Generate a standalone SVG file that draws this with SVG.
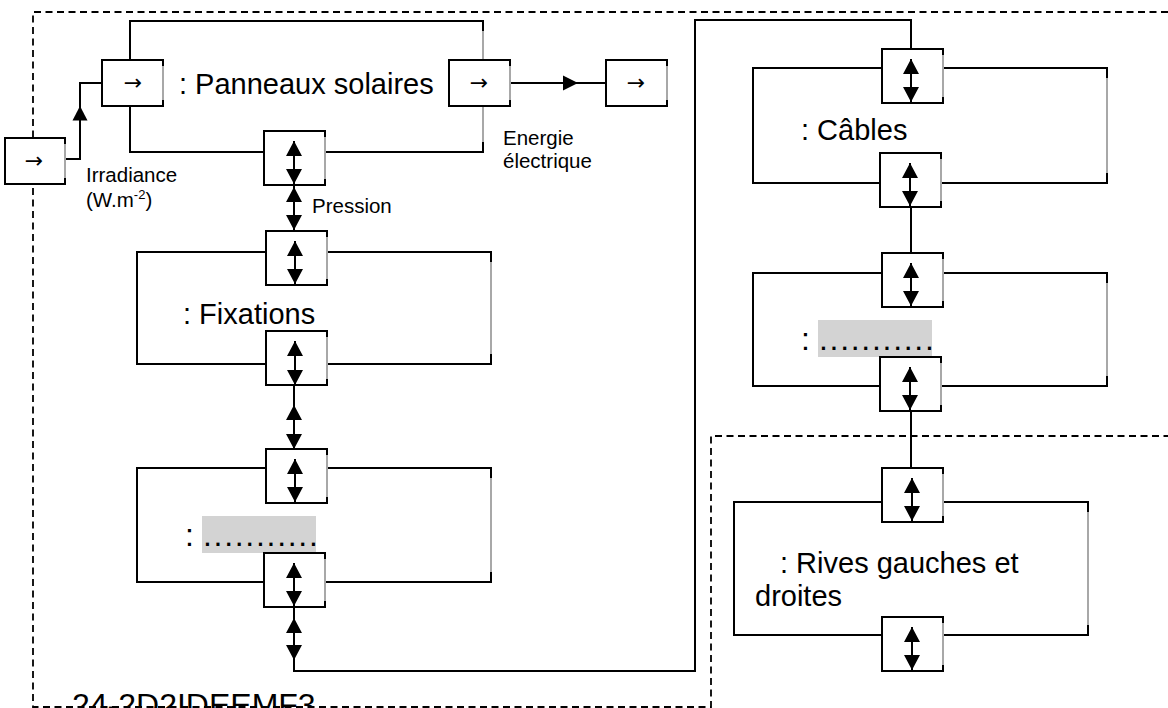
<svg xmlns="http://www.w3.org/2000/svg" width="1168" height="708" viewBox="0 0 1168 708">
<style>
.ln{stroke:#000;stroke-width:2;fill:none}
.gr{stroke:#a8a8a8;stroke-width:2;fill:none}
.blk{stroke:#000;stroke-width:2;fill:none}
.port{fill:#fff;stroke:#000;stroke-width:2}
.ah{fill:#000}
.da{stroke:#000;stroke-width:2;fill:none;marker-start:url(#tri);marker-end:url(#tri)}
.dash{stroke:#000;stroke-width:1.8;fill:none;stroke-dasharray:7 4.5}
.t{font-family:"Liberation Sans",Arial,sans-serif;fill:#000}
.big{font-size:29px}
.ph{font-size:32px}
.sm{font-size:20.5px}
.sym{font-family:"DejaVu Sans",sans-serif;font-size:22px;text-anchor:middle;dominant-baseline:central}
.hl{fill:#d3d3d3}
</style>
<defs>
<marker id="tri" viewBox="0 0 15 16" refX="15" refY="8" markerWidth="15" markerHeight="16" markerUnits="userSpaceOnUse" orient="auto-start-reverse"><path d="M0,0 L15,8 L0,16 Z" fill="#000"/></marker>
</defs>

<g id="boundary">
<path class="dash" d="M1168,12 H33 V707 H711 V436 H1168"/>
</g>

<g id="connectors">
<polyline class="ln" points="65,159 80,159 80,83 102,83"/>
<polygon class="ah" points="80,106 72.5,120.5 87.5,120.5"/>
<line class="ln" x1="510" y1="83" x2="606" y2="83"/>
<polygon class="ah" points="578,83 563,75.5 563,90.5"/>
<line class="ln" x1="294" y1="185" x2="294" y2="231"/>
<line class="da" x1="294" y1="187" x2="294" y2="230"/>
<line class="ln" x1="294" y1="386" x2="294" y2="449"/>
<line class="da" x1="294" y1="405" x2="294" y2="449"/>
<polyline class="ln" points="294,607 294,671 695,671 695,20 911,20 911,49"/>
<line class="da" x1="294" y1="618" x2="294" y2="660"/>
<line class="ln" x1="911" y1="207" x2="911" y2="253"/>
<line class="ln" x1="911" y1="411" x2="911" y2="468"/>
</g>

<g id="input">
<rect class="port" x="5" y="138" width="60" height="46"/>
<line class="gr" x1="65" y1="144" x2="65" y2="178"/>
<text class="sym" x="34" y="160">→</text>
</g>

<g id="output">
<rect class="port" x="606" y="60" width="61" height="46"/>
<line class="gr" x1="667" y1="66" x2="667" y2="100"/>
<text class="sym" x="636" y="82">→</text>
</g>

<g id="panneaux">
<rect class="blk" x="130" y="21" width="353" height="131"/>
<line class="gr" x1="483" y1="31" x2="483" y2="142"/>
<rect class="port" x="102" y="60" width="61" height="46"/>
<line class="gr" x1="163" y1="66" x2="163" y2="100"/>
<text class="sym" x="133" y="82">→</text>
<rect class="port" x="449" y="60" width="61" height="46"/>
<line class="gr" x1="510" y1="66" x2="510" y2="100"/>
<text class="sym" x="479" y="82">→</text>
<rect class="port" x="264" y="131" width="61" height="54"/>
<line class="gr" x1="325" y1="137" x2="325" y2="179"/>
<line class="da" x1="294" y1="141" x2="294" y2="184"/>
<text class="t big" x="179" y="94">: Panneaux solaires</text>
</g>

<g id="labels">
<text class="t sm" x="86" y="182">Irradiance</text>
<text class="t sm" x="86" y="207">(W.m<tspan font-size="13" dy="-8">-2</tspan><tspan dy="8">)</tspan></text>
<text class="t sm" x="312" y="213">Pression</text>
<text class="t sm" x="503" y="145">Energie</text>
<text class="t sm" x="503" y="168">électrique</text>
</g>

<g id="fixations">
<rect class="blk" x="137" y="252" width="354" height="112"/>
<line class="gr" x1="491" y1="262" x2="491" y2="354"/>
<rect class="port" x="266" y="231" width="61" height="54"/>
<line class="gr" x1="327" y1="237" x2="327" y2="279"/>
<line class="da" x1="295" y1="241" x2="295" y2="284"/>
<rect class="port" x="266" y="331" width="61" height="54"/>
<line class="gr" x1="327" y1="337" x2="327" y2="379"/>
<line class="da" x1="295" y1="341" x2="295" y2="385"/>
<text class="t big" x="183" y="324">: Fixations</text>
</g>

<g id="bloc-gauche">
<rect class="blk" x="137" y="468" width="354" height="114"/>
<line class="gr" x1="491" y1="478" x2="491" y2="572"/>
<rect class="hl" x="202" y="516" width="114" height="37"/>
<text class="t ph" x="185" y="546">:</text>
<text class="t ph" x="203" y="546" letter-spacing="1.7">...........</text>
<rect class="port" x="266" y="449" width="61" height="54"/>
<line class="gr" x1="327" y1="455" x2="327" y2="497"/>
<line class="da" x1="295" y1="459" x2="295" y2="502"/>
<rect class="port" x="264" y="553" width="61" height="54"/>
<line class="gr" x1="325" y1="559" x2="325" y2="601"/>
<line class="da" x1="294" y1="563" x2="294" y2="606"/>
</g>

<g id="cables">
<rect class="blk" x="753" y="68" width="354" height="115"/>
<line class="gr" x1="1107" y1="78" x2="1107" y2="173"/>
<rect class="port" x="882" y="49" width="61" height="54"/>
<line class="gr" x1="943" y1="55" x2="943" y2="97"/>
<line class="da" x1="911" y1="59" x2="911" y2="102"/>
<rect class="port" x="880" y="153" width="61" height="54"/>
<line class="gr" x1="941" y1="159" x2="941" y2="201"/>
<line class="da" x1="910" y1="163" x2="910" y2="206"/>
<text class="t big" x="801" y="140">: Câbles</text>
</g>

<g id="bloc-droit">
<rect class="blk" x="753" y="273" width="354" height="113"/>
<line class="gr" x1="1107" y1="283" x2="1107" y2="376"/>
<rect class="hl" x="818" y="320" width="114" height="37"/>
<text class="t ph" x="801" y="350">:</text>
<text class="t ph" x="819" y="350" letter-spacing="1.7">...........</text>
<rect class="port" x="882" y="253" width="61" height="54"/>
<line class="gr" x1="943" y1="259" x2="943" y2="301"/>
<line class="da" x1="911" y1="263" x2="911" y2="306"/>
<rect class="port" x="880" y="357" width="61" height="54"/>
<line class="gr" x1="941" y1="363" x2="941" y2="405"/>
<line class="da" x1="910" y1="367" x2="910" y2="410"/>
</g>

<g id="rives">
<rect class="blk" x="734" y="502" width="354" height="133"/>
<line class="gr" x1="1088" y1="512" x2="1088" y2="625"/>
<rect class="port" x="882" y="468" width="61" height="54"/>
<line class="gr" x1="943" y1="474" x2="943" y2="516"/>
<line class="da" x1="912" y1="478" x2="912" y2="521"/>
<rect class="port" x="882" y="617" width="61" height="54"/>
<line class="gr" x1="943" y1="623" x2="943" y2="665"/>
<line class="da" x1="912" y1="627" x2="912" y2="670"/>
<text class="t big" x="780" y="573">: Rives gauches et</text>
<text class="t big" x="755" y="606">droites</text>
</g>

<g id="reference">
<text class="t ph" x="72" y="716">24-2D2IDEEMF3</text>
</g>
</svg>
